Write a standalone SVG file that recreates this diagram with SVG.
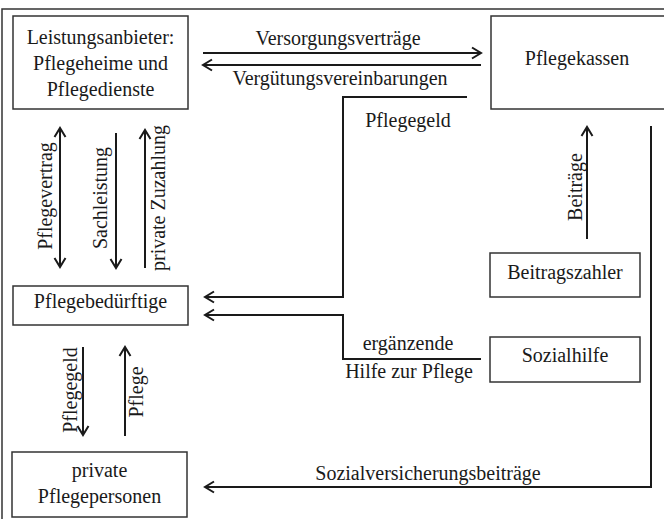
<svg xmlns="http://www.w3.org/2000/svg" width="664" height="519" viewBox="0 0 664 519">
<style>
  .box { fill: #fff; stroke: #333; stroke-width: 1.5; }
  .frame { fill: none; stroke: #333; stroke-width: 1.5; }
  .t { font-family: "Liberation Serif", "Times New Roman", serif; font-size: 20px; fill: #1a1a1a; text-anchor: middle; }
  .c { fill: none; stroke: #1a1a1a; stroke-width: 2; }
  .a { marker-end: url(#arr); }
  .d { marker-start: url(#arr); marker-end: url(#arr); }
</style>
<defs>
  <marker id="arr" viewBox="-12 -7 14 14" refX="0" refY="0" markerWidth="14" markerHeight="14" markerUnits="userSpaceOnUse" orient="auto-start-reverse">
    <path d="M-9,-5.5 L0,0 L-9,5.5" fill="none" stroke="#1a1a1a" stroke-width="2"/>
  </marker>
</defs>
<rect width="664" height="519" fill="#fff"/>
<path class="frame" d="M2,519 L2,9 L664,9"/>

<g id="leistungsanbieter">
  <rect class="box" x="13" y="16" width="175" height="93"/>
  <text class="t" x="100.5" y="44">Leistungsanbieter:</text>
  <text class="t" x="100.5" y="70">Pflegeheime und</text>
  <text class="t" x="100.5" y="96">Pflegedienste</text>
</g>
<g id="pflegekassen">
  <rect class="box" x="491" y="16" width="180" height="93"/>
  <text class="t" x="577" y="65">Pflegekassen</text>
</g>
<g id="pflegebeduerftige">
  <rect class="box" x="13" y="286" width="175" height="39"/>
  <text class="t" x="100.5" y="308">Pflegebedürftige</text>
</g>
<g id="beitragszahler">
  <rect class="box" x="490" y="253" width="150" height="44"/>
  <text class="t" x="565" y="279">Beitragszahler</text>
</g>
<g id="sozialhilfe">
  <rect class="box" x="490" y="337" width="150" height="45"/>
  <text class="t" x="565" y="362">Sozialhilfe</text>
</g>
<g id="private-pflegepersonen">
  <rect class="box" x="12" y="452" width="175" height="65"/>
  <text class="t" x="99.5" y="477">private</text>
  <text class="t" x="99.5" y="503">Pflegepersonen</text>
</g>

<g id="connectors">
  <line class="c a" x1="203" y1="53" x2="481" y2="53"/>
  <line class="c a" x1="481" y1="65" x2="203" y2="65"/>
  <text class="t" x="338" y="45">Versorgungsverträge</text>
  <text class="t" x="340" y="85">Vergütungsvereinbarungen</text>

  <polyline class="c a" points="467,97 343,97 343,297 205,297"/>
  <text class="t" x="408" y="127">Pflegegeld</text>

  <polyline class="c a" points="481,359 343,359 343,315 205,315"/>
  <text class="t" x="408" y="350">ergänzende</text>
  <text class="t" x="409" y="378">Hilfe zur Pflege</text>

  <line class="c a" x1="587" y1="239" x2="587" y2="127"/>
  <text class="t" transform="translate(582,187) rotate(-90)">Beiträge</text>

  <polyline class="c a" points="651,126 651,487 205,487"/>
  <text class="t" x="428" y="480">Sozialversicherungsbeiträge</text>

  <line class="c d" x1="60" y1="128" x2="60" y2="267"/>
  <text class="t" transform="translate(52,196) rotate(-90)">Pflegevertrag</text>

  <line class="c a" x1="116" y1="133" x2="116" y2="268"/>
  <text class="t" transform="translate(107,198) rotate(-90)">Sachleistung</text>

  <line class="c a" x1="145" y1="268" x2="145" y2="130"/>
  <text class="t" transform="translate(165,198) rotate(-90)">private Zuzahlung</text>

  <line class="c a" x1="83" y1="347" x2="83" y2="435"/>
  <text class="t" transform="translate(77,390) rotate(-90)">Pflegegeld</text>

  <line class="c a" x1="125" y1="436" x2="125" y2="347"/>
  <text class="t" transform="translate(143,392) rotate(-90)">Pflege</text>
</g>
</svg>
